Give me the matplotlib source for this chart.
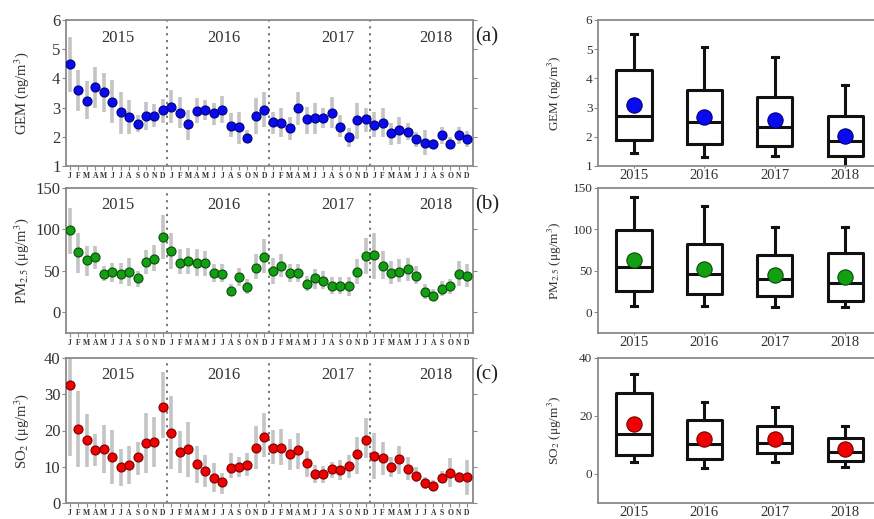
import matplotlib
matplotlib.use("Agg")
import matplotlib.pyplot as plt
import numpy as np

plt.rcParams['font.family'] = ['Liberation Serif', 'DejaVu Serif']
plt.rcParams['mathtext.fontset'] = 'stix'

years = ["2015", "2016", "2017", "2018"]
month_letters = list("JFMAMJJASOND") * 4

gem = [4.5, 3.59, 3.24, 3.72, 3.54, 3.18, 2.84, 2.68, 2.44, 2.70, 2.71, 2.92,
       3.03, 2.80, 2.43, 2.89, 2.92, 2.80, 2.92, 2.37, 2.32, 1.97, 2.71, 2.92,
       2.52, 2.48, 2.29, 2.98, 2.60, 2.63, 2.66, 2.83, 2.34, 1.98, 2.57, 2.62,
       2.39, 2.48, 2.14, 2.23, 2.17, 1.93, 1.80, 1.75, 2.06, 1.77, 2.06, 1.91]
gem_hi = [5.43, 4.3, 3.9, 4.4, 4.2, 3.95, 3.55, 3.26, 2.75, 3.2, 3.13, 3.3,
          3.6, 3.35, 2.92, 3.32, 3.26, 3.15, 3.4, 2.8, 2.86, 2.23, 3.32, 3.52,
          2.86, 2.98, 2.69, 3.55, 3.03, 3.15, 2.98, 3.38, 2.75, 2.29, 3.17, 3.0,
          2.86, 2.98, 2.46, 2.69, 2.46, 2.17, 2.25, 1.94, 2.35, 2.0, 2.35, 2.2]
gem_lo = [3.55, 2.9, 2.6, 3.0, 2.86, 2.46, 2.1, 2.1, 2.17, 2.23, 2.35, 2.46,
          2.46, 2.29, 1.89, 2.46, 2.57, 2.4, 2.46, 2.0, 1.77, 1.83, 2.1, 2.35,
          2.1, 2.0, 1.9, 2.4, 2.1, 2.1, 2.29, 2.29, 2.0, 1.66, 1.94, 2.17,
          2.0, 2.0, 1.71, 1.77, 1.89, 1.66, 1.37, 1.6, 1.77, 1.6, 1.75, 1.65]

pm = [99, 72.8, 62.8, 66.4, 46.8, 48.8, 46.8, 48.8, 40.8, 60.8, 64.8, 90.8,
      74, 60, 62, 59.6, 60, 48, 46.8, 25.2, 42, 30, 54, 67.2,
      50, 56, 48, 48, 34, 40.8, 37.2, 31.2, 32, 31.2, 49.2, 68,
      68.8, 56, 48, 49.2, 52, 44, 24.8, 19.6, 28, 31.2, 46, 43.2]
pm_hi = [126, 96, 80, 80, 56, 60, 59, 65, 50, 75, 81, 118,
         96, 76, 78, 76, 74, 58, 58, 34, 54, 40, 70, 88,
         66, 70, 58, 58, 44, 52, 50, 42, 43, 42, 64, 90,
         96, 74, 62, 64, 66, 56, 34, 28, 38, 40, 62, 58]
pm_lo = [70, 48, 44, 52, 38, 36, 34, 32, 31, 46, 50, 64,
         52, 46, 46, 44, 44, 36, 36, 20, 32, 22, 40, 48,
         34, 42, 36, 36, 26, 28, 28, 22, 22, 20, 34, 46,
         40, 40, 34, 36, 38, 34, 16, 14, 20, 22, 32, 30]

so2 = [32.6, 20.3, 17.4, 14.6, 14.9, 12.6, 10.0, 10.4, 12.6, 16.6, 16.7, 26.6,
       19.4, 14.0, 14.9, 10.7, 8.8, 7.0, 5.8, 9.6, 10.0, 10.6, 15.3, 18.1,
       15.3, 15.3, 13.4, 14.6, 10.9, 7.9, 7.9, 9.3, 9.1, 10.2, 13.5, 17.4,
       12.9, 12.3, 10.0, 12.1, 9.3, 7.5, 5.5, 4.8, 7.0, 8.4, 7.2, 7.2]
so2_hi = [41, 30.8, 24.6, 19, 21.5, 20.1, 15, 15.7, 16.9, 24.8, 23.6, 36.1,
          29.4, 20, 22.4, 15.7, 13.2, 10.9, 8.3, 13.7, 12.6, 13.7, 21.2, 24.9,
          20.1, 20.3, 17.6, 19.2, 14.4, 10.4, 10.2, 11.4, 11.8, 13.2, 18.3, 23.4,
          19.2, 16.9, 12.6, 15.7, 12.7, 10, 7.2, 6.3, 8.7, 12.5, 8.6, 11.8]
so2_lo = [12.9, 10, 10, 10.2, 8.3, 5.2, 4.7, 5.2, 7.7, 8.3, 9.8, 17.8,
          9.5, 8.3, 7.2, 5.4, 4.4, 3, 2.4, 7, 7.2, 7.4, 9.5, 12.7,
          10.7, 10.4, 9, 9.5, 7.2, 5.4, 5.5, 7, 6.3, 7, 8.1, 12.3,
          6.7, 7.7, 7.2, 8.1, 6.3, 5.8, 4, 3.3, 5.5, 4.5, 5.8, 2.1]

# yearly box statistics: whisker low, q1, median, q3, whisker high, mean
gem_box = {"wlo": [1.43, 1.31, 1.33, 0.95], "q1": [1.89, 1.75, 1.69, 1.34],
           "med": [2.72, 2.49, 2.34, 1.85], "q3": [4.30, 3.59, 3.38, 2.72],
           "whi": [5.51, 5.07, 4.74, 3.76], "mean": [3.09, 2.67, 2.57, 2.03]}
pm_box = {"wlo": [8.1, 8.1, 6.0, 6.0], "q1": [26.2, 22.2, 19.4, 13.3],
          "med": [55.2, 46.0, 40.3, 35.5], "q3": [98.8, 81.9, 69.4, 71.4],
          "whi": [139, 127.8, 102.8, 102.8], "mean": [63.3, 52.4, 45.2, 42.0]}
so2_box = {"wlo": [4.3, 2.0, 4.1, 2.3], "q1": [6.7, 5.3, 7.2, 4.4],
           "med": [13.8, 10.4, 10.8, 7.5], "q3": [27.8, 18.6, 16.6, 12.5],
           "whi": [34.5, 24.7, 23.2, 16.5], "mean": [17.4, 11.9, 12.2, 8.7]}

panels = [
    dict(vals=gem, hi=gem_hi, lo=gem_lo, box=gem_box, color="#0a0af0", edge="#00007a",
         ylabel="GEM (ng/m$^3$)", ylim=(1, 6), yticks=[1, 2, 3, 4, 5, 6],
         bylim=(1, 6), byticks=[1, 2, 3, 4, 5, 6], tag="(a)"),
    dict(vals=pm, hi=pm_hi, lo=pm_lo, box=pm_box, color="#12a012", edge="#0a4a0a",
         ylabel="PM$_{2.5}$ (\u03bcg/m$^3$)", ylim=(-25, 150), yticks=[0, 50, 100, 150],
         bylim=(-25, 150), byticks=[0, 50, 100, 150], tag="(b)"),
    dict(vals=so2, hi=so2_hi, lo=so2_lo, box=so2_box, color="#f00000", edge="#7a0000",
         ylabel="SO$_2$ (\u03bcg/m$^3$)", ylim=(0, 40), yticks=[0, 10, 20, 30, 40],
         bylim=(-10, 40), byticks=[0, 20, 40], tag="(c)"),
]

W, H = 874, 519
fig = plt.figure(figsize=(W / 100, H / 100), dpi=100)
spine_c = "#8a8a8a"
text_c = "#333333"

tops = [20, 188, 358]
bots = [166, 333, 503]
lx0, lx1 = 66, 473
rx0 = 598

months = np.arange(1, 49)
year_x = [6.7, 19.2, 32.7, 44.3]

for i, p in enumerate(panels):
    t, b = tops[i], bots[i]
    ax = fig.add_axes([lx0 / W, 1 - b / H, (lx1 - lx0) / W, (b - t) / H])
    lo = np.array(p["lo"]); hi = np.array(p["hi"])
    ax.vlines(months, lo, hi, color="#c4c4c4", lw=2.6, zorder=1)
    ax.plot(months, p["vals"], "o", ms=6.5, mfc=p["color"], mec=p["edge"], mew=0.8, zorder=3)
    for d in [12.5, 24.5, 36.5]:
        ax.axvline(d, color="#555555", ls=(0, (1.5, 3)), lw=1.1, zorder=2)
    for yx, yl in zip(year_x, years):
        ax.text(yx, 0.88, yl, transform=ax.get_xaxis_transform(), ha="center", va="center",
                fontsize=12, color=text_c)
    ax.set_xlim(0.53, 48.7)
    ax.set_ylim(*p["ylim"])
    ax.set_yticks(p["yticks"])
    ax.set_xticks(months)
    ax.set_xticklabels(month_letters, fontsize=5.5, color=text_c, fontweight="bold")
    ax.tick_params(axis="x", length=3, width=0.8, color=spine_c, pad=1.5, direction="out")
    ax.tick_params(axis="y", labelsize=12, length=3, width=0.8, color=spine_c, labelcolor=text_c, pad=1)
    ax.tick_params(axis="y", which="major", right=True, direction="out")
    for s in ax.spines.values():
        s.set_color(spine_c); s.set_linewidth(1.3)
    ax.set_ylabel(p["ylabel"], fontsize=10.5, color=text_c)
    ax.yaxis.set_label_coords(-0.087, 0.5)
    fig.text(487 / W, 1 - (t + 17) / H, p["tag"], fontsize=15, color="#222222", ha="center", va="center")

    # box panel
    bx = fig.add_axes([rx0 / W, 1 - b / H, 1 - rx0 / W, (b - t) / H])
    bs = p["box"]
    stats = []
    for k in range(4):
        stats.append(dict(med=bs["med"][k], q1=bs["q1"][k], q3=bs["q3"][k],
                          whislo=bs["wlo"][k], whishi=bs["whi"][k], fliers=[], mean=bs["mean"][k]))
    pos = np.arange(1, 5)
    bx.bxp(stats, positions=pos, widths=0.5, showfliers=False, showmeans=False,
           capwidths=0.08,
           boxprops=dict(color="#111111", lw=2.2),
           medianprops=dict(color="#111111", lw=2.2),
           whiskerprops=dict(color="#111111", lw=2.2),
           capprops=dict(color="#111111", lw=2.2))
    bx.plot(pos, bs["mean"], "o", ms=11, mfc=p["color"], mec=p["edge"], mew=0.8, zorder=4)
    bx.set_xlim(0.49, 4.41)
    bx.set_ylim(*p["bylim"])
    bx.set_yticks(p["byticks"])
    bx.set_xticks(pos)
    bx.set_xticklabels(years, fontsize=10.5, color=text_c)
    bx.tick_params(axis="x", length=1.5, width=0.8, color=spine_c, pad=1)
    bx.tick_params(axis="y", labelsize=9.5, length=3, width=0.8, color=spine_c, labelcolor=text_c, pad=1)
    bx.spines["right"].set_visible(False)
    for s in ["top", "left", "bottom"]:
        bx.spines[s].set_color(spine_c); bx.spines[s].set_linewidth(1.3)
    bx.set_ylabel(p["ylabel"], fontsize=9.5, color=text_c)
    bx.yaxis.set_label_coords(-0.125, 0.5)

fig.savefig("out.png", dpi=100)
